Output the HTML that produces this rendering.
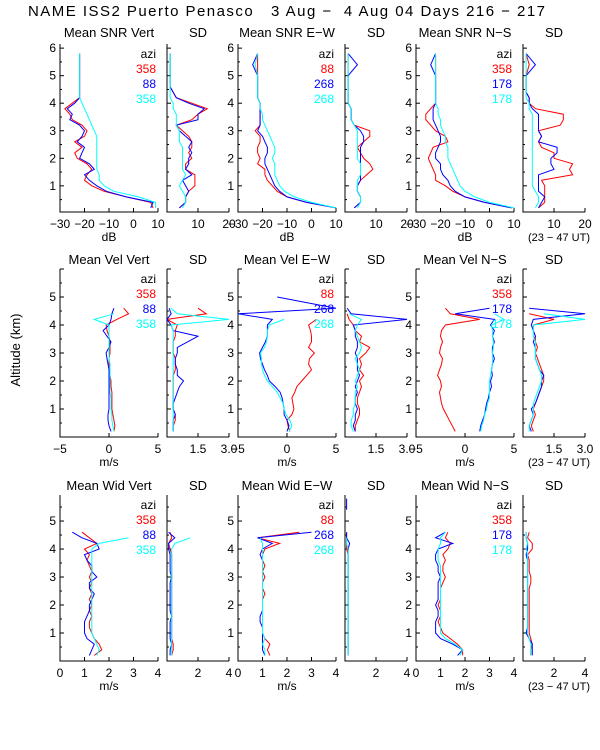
<!DOCTYPE html>
<html><head><meta charset="utf-8">
<style>
html,body{margin:0;padding:0;background:#fff;}
svg{display:block;font-family:"Liberation Sans",sans-serif;}
text{white-space:pre;}
</style></head>
<body>
<svg id="chart" width="600" height="750" viewBox="0 0 600 750">
<text x="28" y="16" font-size="15" textLength="517" lengthAdjust="spacing" xml:space="preserve">NAME ISS2 Puerto Penasco   3 Aug −  4 Aug 04 Days 216 − 217</text>
<text transform="translate(20,350) rotate(-90)" text-anchor="middle" font-size="13">Altitude (km)</text>
</svg>
<script>
const alts = [0.2,0.4,0.6,0.8,1.0,1.2,1.4,1.6,1.8,2.0,2.2,2.4,2.6,2.8,3.0,3.2,3.4,3.6,3.8,4.0,4.2,4.4,4.6,5.0,5.4,5.8];
const colors = ["#ff0000","#0000ff","#00ffff"];
const n = null;
// Row 1: SNR
const snrVertMean = [
 [8,7,-3,-12,-17,-20,-19,-17,-19,-23,-24,-21,-24,-20,-19,-21,-25,-26,-28,-25,-22,-22,-22,-22,-22,-22],
 [7,8,-3,-11,-15,-18,-20,-16,-18,-22,-21,-20,-23,-21,-20,-22,-26,-25,-27,-24,-22,-22,-22,-22,-22,-22],
 [9,9,2,-8,-12,-14,-14,-15,-15,-15,-15,-15,-15,-15,-16,-17,-18,-19,-20,-21,-22,-22,-22,-22,-22,-22]];
const snrVertSD = [
 [4,6,6,7,9,9,9,6,6,8,7,8,8,7,5,3,8,10,13,8,3,2,1,1,1,1],
 [4,6,6,7,6,5,8,6,7,7,8,7,8,6,4,3,10,10,12,7,3,2,1,1,1,1],
 [5,6,6,5,4,5,6,5,5,5,5,5,4,4,4,3,3,3,2,2,1,1,1,1,1,1]];
const snrEWMean = [
 [10,-2,-10,-14,-16,-18,-19,-19,-22,-21,-22,-22,-21,-21,-23,-21,-21,-21,-21,-21,-22,-22,-22,-22,-22,-22],
 [10,-2,-10,-13,-15,-16,-17,-18,-19,-19,-18,-18,-19,-20,-22,-21,-21,-21,-21,-21,-22,-22,-22,-22,-24,-22],
 [10,0,-7,-11,-13,-14,-15,-15,-15,-16,-15,-15,-16,-17,-18,-19,-20,-20,-21,-21,-22,-22,-22,-22,-23,-22]];
const snrEWSD = [
 [3,5,5,4,4,5,7,9,8,6,5,4,6,8,8,3,2,2,2,1,1,1,1,1,1,1],
 [3,5,5,4,4,5,5,5,5,5,5,5,6,6,5,3,2,2,2,1,1,1,1,1,4,1],
 [4,5,5,4,4,4,5,5,5,4,4,4,4,4,4,3,2,2,2,1,1,1,1,1,1,1]];
const snrNSMean = [
 [9,-2,-10,-15,-18,-22,-22,-23,-24,-25,-24,-23,-17,-18,-22,-24,-26,-26,-24,-22,-22,-22,-22,-22,-22,-22],
 [9,-2,-10,-14,-16,-17,-19,-20,-20,-22,-22,-21,-20,-20,-21,-22,-23,-23,-23,-22,-22,-22,-22,-22,-24,-22],
 [10,0,-6,-10,-12,-13,-14,-15,-16,-17,-17,-17,-18,-18,-19,-20,-20,-21,-21,-22,-22,-22,-22,-22,-22,-22]];
const snrNSSD = [
 [5,7,7,7,7,6,16,15,16,10,10,6,5,6,5,12,13,13,4,2,2,1,1,1,2,1],
 [5,6,7,5,5,5,5,10,9,9,11,11,5,6,5,5,5,5,3,2,2,1,1,1,4,1],
 [4,5,5,4,3,3,3,3,3,3,3,3,3,3,3,3,3,3,2,2,1,1,1,1,1,1]];
// Row 2: Velocity
const velVertMean = [
 [0.5,0.6,0.5,0.4,0.3,0.3,0.3,0.3,0.2,0.2,0.1,0.1,0.0,0.0,0.1,0.1,0.1,0.0,-0.2,-0.3,0.8,2.0,1.5,n,n,n],
 [0.2,0.0,-0.1,-0.1,0.0,0.0,0.0,0.0,0.0,0.0,0.0,0.0,-0.1,-0.2,-0.3,0.0,0.2,-0.2,-0.6,0.0,0.2,0.3,0.5,n,n,n],
 [0.5,0.4,0.3,0.3,0.2,0.2,0.2,0.1,0.1,0.1,0.1,0.1,0.1,0.0,0.0,0.0,0.0,0.0,0.0,0.0,-1.5,0.5,n,n,n,0.0]];
const velVertSD = [
 [0.3,0.3,0.4,0.4,0.3,0.3,0.3,0.3,0.3,0.3,0.3,0.4,0.4,0.4,0.3,0.3,0.3,0.4,0.4,0.5,0.0,1.9,1.5,n,n,3.0],
 [0.3,0.3,0.3,0.4,0.3,0.3,0.4,0.5,0.6,0.8,0.5,0.5,0.4,0.4,0.5,0.5,1.0,1.5,0.3,0.2,0.0,0.2,0.1,n,n,n],
 [0.3,0.3,0.3,0.3,0.3,0.3,0.3,0.3,0.3,0.3,0.3,0.3,0.3,0.3,0.3,0.3,0.3,0.3,0.3,0.2,3.0,0.5,0.2,n,n,0.2]];
const velEWMean = [
 [0.3,0.1,0.0,0.5,0.7,0.6,0.5,0.8,1.0,1.5,2.0,2.5,2.2,2.3,2.8,2.2,2.5,2.5,2.4,2.2,3.0,n,n,n,n,n],
 [0.0,0.2,0.0,-0.3,-0.3,-0.4,-0.5,-0.7,-1.2,-1.8,-2.0,-2.3,-2.5,-2.7,-2.8,-2.5,-2.2,-2.0,-2.0,-2.0,-1.5,-5,5,-1,n,-1],
 [0.2,0.5,0.3,-0.1,-0.3,-0.4,-0.7,-1.0,-1.5,-2.0,-2.3,-2.5,-2.6,-2.6,-2.7,-2.3,-2.1,-2.0,-2.0,-1.8,-0.3,n,n,n,n,n]];
const velEWSD = [
 [0.5,0.5,0.6,0.7,0.7,0.6,0.6,0.7,0.8,0.7,0.9,0.7,0.8,0.7,1.0,1.2,0.7,0.8,0.5,0.4,0.2,0.1,n,n,n,n],
 [0.5,0.4,0.5,0.5,0.6,0.5,0.5,0.6,0.5,0.6,0.7,0.6,0.6,0.6,0.5,0.6,0.6,0.5,0.5,0.4,3.0,0.3,0.1,n,n,0.1],
 [0.4,0.3,0.3,0.4,0.4,0.5,0.5,0.5,0.6,0.5,0.6,0.7,0.6,0.5,0.7,0.8,0.7,0.6,0.5,0.6,0.8,0.2,n,n,n,n]];
const velNSMean = [
 [-1.0,-1.3,-1.6,-1.9,-2.2,-2.4,-2.5,-2.6,-2.4,-2.5,-2.8,-2.6,-2.4,-2.3,-2.6,-2.5,-2.3,-2.5,-2.4,-2.0,1.5,-1.5,-2.0,n,-5,n],
 [1.5,1.6,1.8,2.0,2.1,2.2,2.4,2.5,2.7,2.6,2.8,2.7,2.8,3.0,2.8,2.8,3.0,2.8,3.0,2.6,3.0,-1.0,2.5,n,n,n],
 [1.6,1.7,1.9,2.0,2.2,2.3,2.5,2.5,2.5,2.5,2.6,2.7,2.8,2.8,2.8,2.9,2.9,2.8,2.8,2.7,4.0,3.0,n,n,n,-5]];
const velNSSD = [
 [0.5,0.4,0.5,0.6,0.5,0.6,0.7,0.8,0.9,1.0,1.0,0.9,0.8,0.7,0.6,0.7,0.6,0.6,0.5,0.5,1.5,0.3,n,n,3.0,n],
 [0.4,0.3,0.4,0.5,0.4,0.6,0.7,0.8,0.9,0.9,1.0,0.8,0.7,0.6,0.6,0.6,0.5,0.6,0.5,0.4,0.5,3.0,0.3,n,n,n],
 [0.3,0.3,0.4,0.5,0.5,0.5,0.6,0.7,0.8,0.9,0.9,0.8,0.7,0.6,0.6,0.6,0.6,0.5,0.5,0.5,3.0,1.0,n,n,n,0.2]];
// Row 3: Width
const widVertMean = [
 [1.4,1.7,1.6,1.4,1.3,1.2,1.2,1.3,1.2,1.3,1.2,1.3,1.2,1.3,1.2,1.3,1.2,1.1,1.2,1.0,1.5,1.2,0.9,n,n,1.0],
 [1.2,1.3,1.4,1.1,1.0,1.0,1.0,1.1,1.2,1.2,1.3,1.4,1.2,1.2,1.5,1.3,1.3,1.1,1.0,1.6,1.5,0.9,0.5,n,n,n],
 [1.5,1.6,1.5,1.4,1.3,1.3,1.3,1.3,1.3,1.3,1.3,1.3,1.3,1.3,1.3,1.3,1.3,1.3,1.3,1.3,1.6,2.8,n,n,n,1.5]];
const widVertSD = [
 [0.3,0.4,0.4,0.3,0.3,0.3,0.3,0.3,0.3,0.3,0.3,0.3,0.3,0.3,0.3,0.3,0.3,0.3,0.3,0.2,0.1,0.3,0.2,n,n,0.1],
 [0.2,0.2,0.3,0.2,0.2,0.2,0.2,0.3,0.2,0.2,0.2,0.2,0.2,0.2,0.3,0.2,0.2,0.2,0.2,0.1,0.1,0.5,0.1,n,n,n],
 [0.3,0.3,0.3,0.3,0.3,0.3,0.3,0.3,0.3,0.3,0.3,0.3,0.3,0.3,0.3,0.3,0.3,0.3,0.3,0.3,0.5,1.5,n,n,n,0.3]];
const widEWMean = [
 [1.3,1.2,1.3,1.1,1.0,1.0,1.0,1.0,1.0,1.0,1.0,1.1,1.0,1.0,1.1,1.0,1.1,1.0,1.0,1.1,1.7,0.8,2.5,n,n,n],
 [1.1,1.0,1.0,1.0,1.0,1.0,0.9,0.9,1.0,1.0,1.0,1.0,1.0,1.0,1.0,1.0,1.0,1.0,0.9,1.0,1.4,0.8,3.0,n,n,0.8],
 [1.1,1.1,1.0,1.1,1.0,1.0,1.0,1.0,1.0,1.0,1.0,1.0,1.0,1.0,1.0,1.0,1.0,1.0,1.0,1.0,1.0,0.9,n,n,n,n]];
const widEWSD = [
 [0.2,0.2,0.2,0.2,0.2,0.2,0.2,0.2,0.2,0.2,0.2,0.2,0.2,0.2,0.2,0.2,0.2,0.2,0.2,0.1,0.1,0.1,0.1,n,n,n],
 [0.2,0.2,0.2,0.2,0.2,0.2,0.2,0.2,0.2,0.2,0.2,0.2,0.2,0.2,0.2,0.2,0.2,0.2,0.2,0.2,0.3,0.1,0.1,n,0.1,0.1],
 [0.2,0.2,0.2,0.2,0.2,0.2,0.2,0.2,0.2,0.2,0.2,0.2,0.2,0.2,0.2,0.2,0.2,0.2,0.2,0.2,0.1,0.1,n,n,n,n]];
const widNSMean = [
 [1.9,1.9,1.7,1.4,1.1,1.0,0.9,1.0,1.0,0.9,1.0,1.0,1.0,1.1,1.2,1.1,1.1,1.2,1.1,1.3,1.4,1.2,1.3,n,n,n],
 [1.7,1.9,1.5,1.0,0.8,0.8,0.8,0.9,0.9,0.8,0.9,0.9,0.9,0.9,1.0,0.9,0.9,0.8,0.8,0.9,1.5,0.8,1.2,n,0.5,n],
 [1.8,1.9,1.6,1.2,1.0,1.0,1.0,1.0,1.0,1.0,1.0,1.0,1.0,1.0,1.0,1.0,1.0,0.9,0.9,0.9,1.0,1.0,1.2,n,n,1.2]];
const widNSSD = [
 [0.5,0.5,0.6,0.5,0.4,0.4,0.4,0.4,0.4,0.4,0.4,0.4,0.4,0.5,0.5,0.4,0.4,0.4,0.3,0.6,0.6,0.3,0.4,n,0.2,n],
 [0.6,0.6,0.6,0.4,0.2,0.3,0.3,0.3,0.3,0.3,0.3,0.3,0.3,0.3,0.3,0.3,0.3,0.3,0.2,0.3,0.3,0.2,0.2,n,n,n],
 [0.5,0.5,0.5,0.4,0.3,0.3,0.3,0.3,0.3,0.3,0.3,0.3,0.3,0.3,0.3,0.3,0.3,0.3,0.3,0.2,0.3,0.2,0.2,n,n,0.1]];

const meanTicks = [[-30,-20,-10,0,10],[-5,0,5],[0,1,2,3,4]];
const meanTickLabels = [["−30","−20","−10","0","10"],["−5","0","5"],["0","1","2","3","4"]];
const sdTicks = [[10,20],[1.5,3.0],[2,4]];
const sdTickLabels = [["10","20"],["1.5","3.0"],["2","4"]];
const yTicks = [[1,2,3,4,5,6],[1,2,3,4,5],[1,2,3,4,5]];
const dirNames = ["Vert","E−W","N−S"];
const varNames = ["SNR","Vel","Wid"];
const units = ["dB","m/s","m/s"];
const aziLabels = [["358","88","358"],["88","268","268"],["358","178","178"]];

const svg = document.getElementById('chart');
const NS = "http://www.w3.org/2000/svg";
function mk(tag, attrs, parent){const e=document.createElementNS(NS,tag);for(const k in attrs)e.setAttribute(k,attrs[k]);(parent||svg).appendChild(e);return e;}

const rows = [
 {bottom:212, top:44, ymin:0.05, ymax:6.15, mr:[-30,10], sr:[0,20], data:[[snrVertMean,snrVertSD],[snrEWMean,snrEWSD],[snrNSMean,snrNSSD]], titleY:37},
 {bottom:437, top:269, ymin:0, ymax:6.0, mr:[-5,5], sr:[0,3], data:[[velVertMean,velVertSD],[velEWMean,velEWSD],[velNSMean,velNSSD]], titleY:264},
 {bottom:661, top:495, ymin:0, ymax:5.93, mr:[0,4], sr:[0,4], data:[[widVertMean,widVertSD],[widEWMean,widEWSD],[widNSMean,widNSSD]], titleY:490}];
const groupX = [[60,158,167,229],[238,336,345,407],[416,514,523,585]];

rows.forEach((row, ri) => {
  const yScale = v => row.bottom - (v-row.ymin)/(row.ymax-row.ymin)*(row.bottom-row.top);
  groupX.forEach((gx, gi) => {
    [0,1].forEach(pi => {
      const x0 = pi===0?gx[0]:gx[2], x1 = pi===0?gx[1]:gx[3];
      const rng = pi===0?row.mr:row.sr;
      const xScale = v => x0 + (v-rng[0])/(rng[1]-rng[0])*(x1-x0);
      const g = mk('g',{});
      
      
      const cp = 'clip'+ri+gi+pi;
      const cl = mk('clipPath',{id:cp},g); mk('rect',{x:x0,y:row.top-4,width:x1-x0+2,height:row.bottom-row.top+4},cl);
      const ax = mk('path',{d:`M${x0},${row.top}V${row.bottom}H${x1}`,stroke:'#000','stroke-width':1,fill:'none'},g);
      
      
      for(let t=0.5; t<=row.ymax; t+=0.5){
        const yy=yScale(t); const len = (Math.abs(t-Math.round(t))<0.01)?4:2;
        mk('line',{x1:x0,x2:x0+len,y1:yy,y2:yy,stroke:'#000'},g);
      }
      if(pi===0){
        yTicks[ri].forEach(t=>{
          const tl = mk('text',{x:x0-4,y:yScale(t)+4,'text-anchor':'end','font-size':12},g);
          tl.textContent=t;
          
          
        });
      }
      const ticks = pi===0?meanTicks[ri]:sdTicks[ri];
      const tls = pi===0?meanTickLabels[ri]:sdTickLabels[ri];
      ticks.forEach((t,i)=>{
        const xx=xScale(t);
        mk('line',{x1:xx,x2:xx,y1:row.bottom,y2:row.bottom-4,stroke:'#000'},g);
        const tl = mk('text',{x:xx,y:row.bottom+16,'text-anchor':'middle','font-size':12},g);
        tl.textContent=tls[i];
        
        
      });
      if(pi===0){
        const u = mk('text',{x:(x0+x1)/2,y:row.bottom+29,'text-anchor':'middle','font-size':12},g);
        u.textContent=units[ri];
        
        
      }
      const tt = mk('text',{x:(x0+x1)/2,y:row.titleY,'text-anchor':'middle','font-size':13},g);
      tt.textContent = pi===0?`Mean ${varNames[ri]} ${dirNames[gi]}`:'SD';
      
      
      const series = row.data[gi][pi];
      series.forEach((vals, si) => {
        let d='', pen=false;
        vals.forEach((v,k)=>{
          if(v===null){pen=false;return;}
          d += (pen?'L':'M') + xScale(v).toFixed(1)+','+yScale(alts[k]).toFixed(1);
          pen=true;
        });
        const p = mk('path',{d:d,stroke:colors[si],'stroke-width':1,fill:'none','clip-path':`url(#${cp})`},g);
        
        
      });
      if(pi===0){
        const ly = row.top+14;
        const la = mk('text',{x:x1-2,y:ly,'text-anchor':'end','font-size':12},g);
        la.textContent='azi';
        
        
        aziLabels[gi].forEach((a,si)=>{
          const le = mk('text',{x:x1-2,y:ly+15*(si+1),'text-anchor':'end','font-size':12,fill:colors[si]},g);
          le.textContent=a;
          
          
        });
      }
    });
  });
  const ut = mk('text',{x:590,y:row.bottom+29,'text-anchor':'end','font-size':11});
  ut.textContent='(23 − 47 UT)';
  
  
});
</script>
</body></html>
